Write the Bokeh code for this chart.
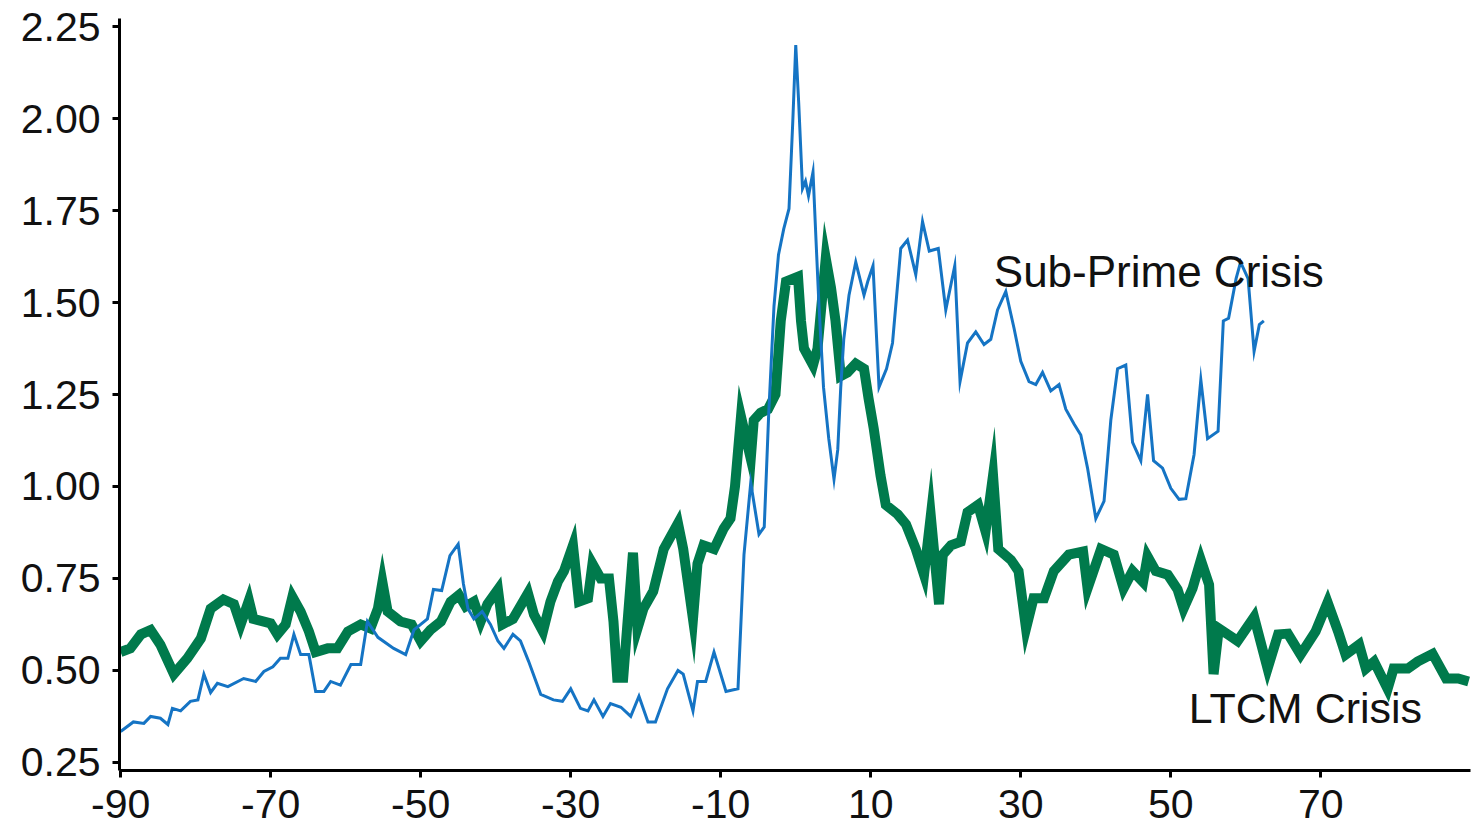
from bokeh.plotting import figure
from bokeh.models import FixedTicker, Range1d, Label, NumeralTickFormatter, PrintfTickFormatter
from bokeh.embed import file_html
from bokeh.resources import INLINE

# Sub-Prime Crisis series (days relative to event, value)
sub_x = [-90, -88.3, -86.9, -86, -84.7, -83.7, -83.1, -82, -80.7, -79.7, -78.9, -78, -77.1, -75.7,
         -73.6, -72, -70.9, -69.7, -68.7, -67.7, -66.9, -66, -64.9, -64, -62.9, -62, -60.7, -59.3,
         -58, -57.1, -55.7, -53.6, -52, -50.9, -49.1, -48.3, -47.2, -46.1, -45, -44.3, -43.7, -42.9,
         -41.8, -40.7, -39.7, -38.9, -37.7, -36.7, -35.6, -34, -32.3, -31.1, -30, -28.7, -27.7, -26.9,
         -25.7, -24.7, -23.3, -22, -20.9, -19.7, -18.7, -17.1, -15.7, -15, -13.7, -13.1, -12, -10.9,
         -9.3, -7.7, -6.9, -6, -4.9, -4.2, -3.6, -2.9, -2.3, -1.6, -0.9, -0.4, 0, 0.4, 0.9, 1.3, 1.7,
         2.3, 2.7, 3.1, 3.7, 4.4, 5.1, 5.6, 6.0, 6.4, 7.1, 8.0, 9.1, 9.6, 10.3, 11.1, 12.1, 12.9, 14.0,
         14.9, 16.0, 16.9, 17.8, 19.0, 20.0, 20.5, 21.2, 21.9, 22.9, 24.0, 25.1, 26.0, 26.9, 28.0, 29.1,
         30.0, 31.1, 32.0, 32.9, 34.0, 35.1, 36.0, 37.1, 38.0, 38.9, 40.0, 41.1, 42.0, 42.9, 44.0, 44.9,
         46.0, 46.9, 47.7, 48.9, 50.0, 51.1, 52.0, 53.1, 54.0, 54.9, 56.3, 57.0, 57.7, 58.7, 59.3, 60.3,
         61.1, 61.8, 62.4]
sub_y = [0.334, 0.36, 0.356, 0.375, 0.37, 0.353, 0.397, 0.39, 0.416, 0.42, 0.49, 0.44, 0.465, 0.456,
         0.478, 0.47, 0.497, 0.51, 0.533, 0.533, 0.598, 0.543, 0.543, 0.443, 0.443, 0.47, 0.46, 0.516,
         0.516, 0.633, 0.59, 0.56, 0.543, 0.61, 0.64, 0.72, 0.717, 0.812, 0.843, 0.735, 0.668, 0.64,
         0.66, 0.625, 0.58, 0.56, 0.598, 0.58, 0.524, 0.435, 0.42, 0.416, 0.45, 0.397, 0.39, 0.42,
         0.375, 0.41, 0.40, 0.375, 0.43, 0.36, 0.36, 0.45, 0.50, 0.49, 0.39, 0.47, 0.47, 0.55,
         0.443, 0.45, 0.815, 1.01, 0.87, 0.89, 1.20, 1.49, 1.63, 1.70, 1.755, 1.99, 2.20, 2.04, 1.81, 1.83, 1.79,
         1.855, 1.67, 1.49, 1.27, 1.13, 1.02, 1.10, 1.27, 1.40, 1.52, 1.61, 1.52, 1.557, 1.60, 1.27, 1.32, 1.39, 1.647,
         1.67, 1.576, 1.72, 1.64, 1.647, 1.48, 1.53, 1.60, 1.285, 1.39, 1.42, 1.386, 1.40, 1.48, 1.53, 1.43,
         1.34, 1.285, 1.277, 1.31, 1.26, 1.277, 1.21, 1.17, 1.14, 1.05, 0.913, 0.96, 1.18, 1.32, 1.33, 1.12,
         1.07, 1.25, 1.07, 1.05, 0.995, 0.965, 0.967, 1.087, 1.29, 1.13, 1.15, 1.45, 1.457, 1.565, 1.61, 1.565,
         1.367, 1.44, 1.45]

# LTCM Crisis series
ltcm_x = [-90, -88.7, -87.3, -86, -84.7, -82.9, -81.1, -79.3, -78, -76.3, -74.9, -74, -72.9, -72.3,
          -70, -69.1, -68, -67.1, -66, -64.9, -64, -62.4, -61.1, -59.7, -58, -56.7, -55.7, -55.1, -54.4,
          -52.7, -51.2, -50, -48.7, -47.3, -46, -44.9, -44, -42.9, -42, -41.1, -39.7, -39.1, -37.7, -35.7,
          -34.9, -33.7, -32.7, -31.7, -30.9, -29.7, -28.9, -27.7, -27.1, -26, -24.9, -24.3, -23.8, -23.0,
          -21.7, -21.1, -20.3, -19, -17.6, -15.7, -15, -13.7, -13.1, -12.3, -10.9, -9.6, -8.7, -8.1, -7.3,
          -6.0, -5.6, -4.7, -3.7, -2.7, -2.0, -1.3, 0.3, 0.7, 1.1, 2.3, 2.9, 4.0, 4.7, 5.3, 6.0, 6.9, 8.0,
          9.1, 9.7, 10.4, 11.3, 12.0, 13.6, 14.7, 16.0, 17.1, 18.0, 19.1, 19.6, 20.7, 22.0, 22.9, 24.3,
          25.3, 26.3, 27.0, 28.7, 29.7, 30.7, 31.7, 33.1, 34.4, 36.4, 38.3, 38.9, 40.7, 42.4, 43.7, 44.9,
          46.3, 46.9, 48.0, 49.6, 50.9, 51.7, 52.9, 54.0, 55.1, 55.7, 56.4, 57.6, 58.9, 61.1, 62.9, 64.3,
          65.6, 67.3, 69.3, 70.9, 72.3, 73.3, 75.1, 76.0, 77.1, 78.9, 79.7, 81.6, 82.9, 84.9, 86.7, 88.3, 89.7]
ltcm_y = [0.55, 0.56, 0.598, 0.61, 0.57, 0.49, 0.533, 0.587, 0.668, 0.693, 0.68, 0.625, 0.69, 0.64,
          0.628, 0.598, 0.625, 0.70, 0.66, 0.606, 0.55, 0.56, 0.56, 0.606, 0.625, 0.614, 0.668, 0.74, 0.66,
          0.633, 0.625, 0.58, 0.61, 0.633, 0.687, 0.705, 0.674, 0.687, 0.633, 0.68, 0.72, 0.625, 0.64, 0.71,
          0.652, 0.606, 0.687, 0.742, 0.77, 0.84, 0.687, 0.696, 0.79, 0.75, 0.75, 0.633, 0.48, 0.48,
          0.82, 0.614, 0.668, 0.715, 0.83, 0.90, 0.83, 0.64, 0.79, 0.84, 0.83, 0.886, 0.913, 1.0, 1.19,
          1.076, 1.18, 1.20, 1.21, 1.25, 1.45, 1.557, 1.57, 1.45, 1.375, 1.33, 1.375, 1.62, 1.54, 1.45, 1.30, 1.31, 1.334,
          1.32, 1.24, 1.157, 1.03, 0.95, 0.924, 0.897, 0.83, 0.76, 0.92, 0.68, 0.815, 0.84, 0.85, 0.93, 0.95,
          0.878, 1.03, 0.83, 0.80, 0.77, 0.614, 0.696, 0.696, 0.77, 0.815, 0.823, 0.723, 0.83, 0.815, 0.723, 0.77,
          0.74, 0.81, 0.77, 0.76, 0.72, 0.668, 0.723, 0.80, 0.733, 0.49, 0.614, 0.598, 0.58, 0.645, 0.505, 0.598,
          0.60, 0.543, 0.606, 0.685, 0.606, 0.543, 0.57, 0.505, 0.524, 0.45, 0.505, 0.505, 0.524, 0.545, 0.478, 0.478, 0.47]

x_ticks = [-90, -70, -50, -30, -10, 10, 30, 50, 70]
y_ticks = [0.25, 0.50, 0.75, 1.00, 1.25, 1.50, 1.75, 2.00, 2.25]

GREEN = "#007A4C"
BLUE = "#1574C4"
FONT = "Liberation Sans"

p = figure(width=1472, height=825, output_backend="svg", toolbar_location=None,
           x_range=Range1d(-90.15, 89.95), y_range=Range1d(0.228, 2.272),
           min_border_left=119, min_border_right=2, min_border_top=18, min_border_bottom=55)
p.outline_line_color = None
p.xgrid.visible = False
p.ygrid.visible = False
p.background_fill_color = "white"

p.line(ltcm_x, ltcm_y, line_color=GREEN, line_width=10, line_join="miter")
p.line(sub_x, sub_y, line_color=BLUE, line_width=3, line_join="miter")

p.add_layout(Label(x=26.4, y=1.584, text="Sub-Prime Crisis", text_baseline="middle",
                   text_font=FONT, text_font_size="44px", text_color="#111111"))
p.add_layout(Label(x=52.4, y=0.397, text="LTCM Crisis", text_baseline="middle",
                   text_font=FONT, text_font_size="43px", text_color="#111111"))

for ax in (p.xaxis, p.yaxis):
    ax.axis_line_width = 3
    ax.axis_line_color = "black"
    ax.major_tick_line_width = 3
    ax.major_tick_line_color = "black"
    ax.major_tick_in = 0
    ax.major_tick_out = 7
    ax.minor_tick_line_color = None
    ax.major_label_text_font = FONT
    ax.major_label_text_font_size = "41px"
    ax.major_label_text_color = "#111111"

p.xaxis.ticker = FixedTicker(ticks=x_ticks)
p.yaxis.ticker = FixedTicker(ticks=y_ticks)
p.xaxis.formatter = PrintfTickFormatter(format="%d")
p.yaxis.formatter = NumeralTickFormatter(format="0.00")
p.xaxis.major_label_standoff = 12
p.yaxis.major_label_standoff = 12

open("out.html", "w").write(file_html(p, INLINE))
